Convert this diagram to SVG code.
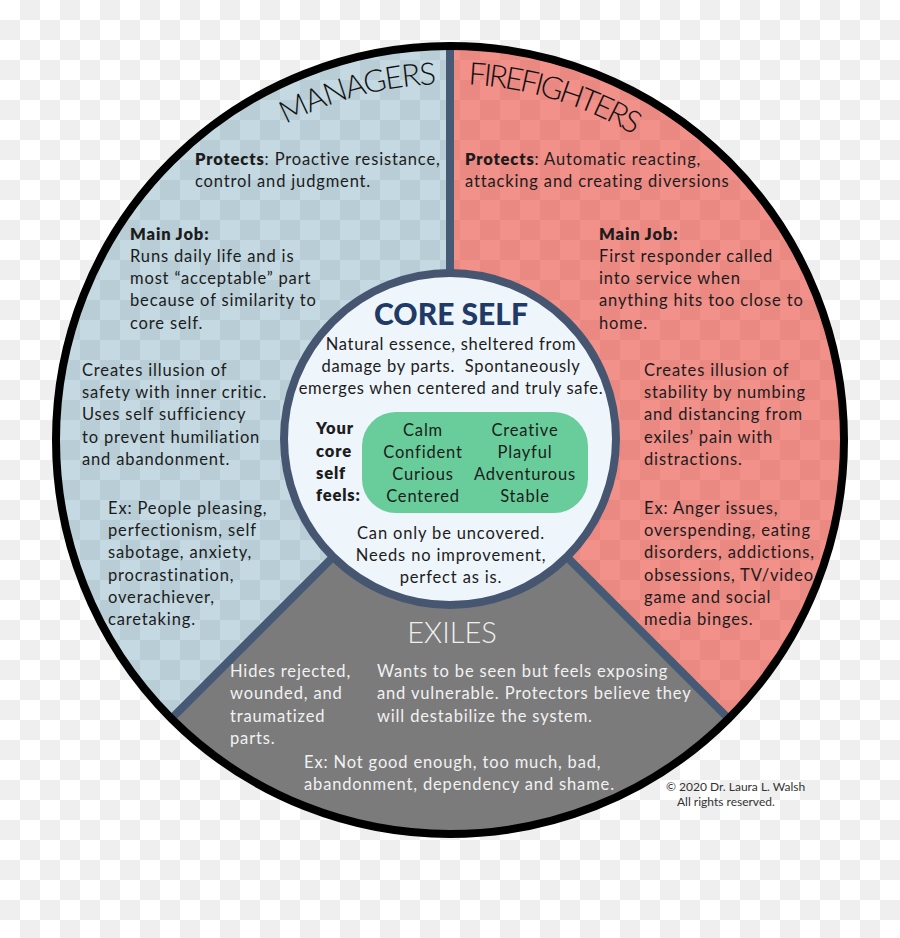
<svg xmlns="http://www.w3.org/2000/svg" width="900" height="938" viewBox="0 0 900 938">
<defs>
<pattern id="checker" x="0" y="0" width="40" height="40" patternUnits="userSpaceOnUse">
<rect width="40" height="40" fill="#ffffff"/>
<rect x="20" y="0" width="20" height="20" fill="#efefef"/>
<rect x="0" y="20" width="20" height="20" fill="#efefef"/>
</pattern>
<path id="arcTop" d="M 94,440 A 356 356 0 0 1 806,440"/>
<style>
text{font-family:"Lato","Liberation Sans",sans-serif;}
.t{font-size:16.5px;fill:#1c1c1c;letter-spacing:0.85px;}
.b{font-weight:800;}
.w{font-size:16.5px;fill:#f2f2f2;letter-spacing:0.85px;}
.title{font-size:31px;font-weight:300;fill:#111;}
.c{text-anchor:middle;}
.div{stroke:#475a75;stroke-width:8;fill:none;}
.cp{font-size:12px;fill:#333;}
</style>
</defs>
<rect width="900" height="938" fill="url(#checker)"/>

<g id="managers">
<path d="M450,440 L450,46 A394,394 0 0 0 171.4,718.6 Z" fill="#1a6d8f" fill-opacity="0.26"/>
<text class="title" style="letter-spacing:-1.5px"><textPath href="#arcTop" startOffset="544" text-anchor="end">MANAGERS</textPath></text>
<text class="t" x="195" y="165"><tspan class="b">Protects</tspan>: Proactive resistance,</text>
<text class="t" x="195" y="187">control and judgment.</text>
<text class="t b" x="130" y="240">Main Job:</text>
<text class="t" x="130" y="262">Runs daily life and is</text>
<text class="t" x="130" y="284">most “acceptable” part</text>
<text class="t" x="130" y="306">because of similarity to</text>
<text class="t" x="130" y="329">core self.</text>
<text class="t" x="82" y="376">Creates illusion of</text>
<text class="t" x="82" y="398">safety with inner critic.</text>
<text class="t" x="82" y="420">Uses self sufficiency</text>
<text class="t" x="82" y="443">to prevent humiliation</text>
<text class="t" x="82" y="465">and abandonment.</text>
<text class="t" x="108" y="514">Ex: People pleasing,</text>
<text class="t" x="108" y="536">perfectionism, self</text>
<text class="t" x="108" y="558">sabotage, anxiety,</text>
<text class="t" x="108" y="581">procrastination,</text>
<text class="t" x="108" y="603">overachiever,</text>
<text class="t" x="108" y="625">caretaking.</text>
</g>

<g id="firefighters">
<path d="M450,440 L450,46 A394,394 0 0 1 728.6,718.6 Z" fill="#e52115" fill-opacity="0.5"/>
<text class="title" style="letter-spacing:-2.8px"><textPath href="#arcTop" startOffset="577">FIREFIGHTERS</textPath></text>
<text class="t" x="465" y="165"><tspan class="b">Protects</tspan>: Automatic reacting,</text>
<text class="t" x="465" y="187">attacking and creating diversions</text>
<text class="t b" x="599" y="240">Main Job:</text>
<text class="t" x="599" y="262">First responder called</text>
<text class="t" x="599" y="284">into service when</text>
<text class="t" x="599" y="306">anything hits too close to</text>
<text class="t" x="599" y="329">home.</text>
<text class="t" x="644" y="376">Creates illusion of</text>
<text class="t" x="644" y="398">stability by numbing</text>
<text class="t" x="644" y="420">and distancing from</text>
<text class="t" x="644" y="443">exiles’ pain with</text>
<text class="t" x="644" y="465">distractions.</text>
<text class="t" x="644" y="514">Ex: Anger issues,</text>
<text class="t" x="644" y="536">overspending, eating</text>
<text class="t" x="644" y="558">disorders, addictions,</text>
<text class="t" x="644" y="581">obsessions, TV/video</text>
<text class="t" x="644" y="603">game and social</text>
<text class="t" x="644" y="625">media binges.</text>
</g>

<g id="exiles">
<path d="M450,440 L171.4,718.6 A394,394 0 0 0 728.6,718.6 Z" fill="#7b7b7b"/>
<text class="c" x="452" y="643" style="font-size:29px;font-weight:300;fill:#efefef">EXILES</text>
<text class="w" x="230" y="677">Hides rejected,</text>
<text class="w" x="230" y="699">wounded, and</text>
<text class="w" x="230" y="722">traumatized</text>
<text class="w" x="230" y="744">parts.</text>
<text class="w" x="377" y="677">Wants to be seen but feels exposing</text>
<text class="w" x="377" y="699">and vulnerable. Protectors believe they</text>
<text class="w" x="377" y="722">will destabilize the system.</text>
<text class="w" x="304" y="768">Ex: Not good enough, too much, bad,</text>
<text class="w" x="304" y="790">abandonment, dependency and shame.</text>
</g>

<g id="dividers">
<line class="div" x1="450" y1="44" x2="450" y2="440"/>
<line class="div" x1="450" y1="440" x2="170" y2="720"/>
<line class="div" x1="450" y1="440" x2="730" y2="720"/>
</g>

<circle cx="450" cy="440" r="394" fill="none" stroke="#000" stroke-width="8"/>

<g id="core-self">
<circle cx="450" cy="439" r="166" fill="#eef5fb" stroke="#465671" stroke-width="8"/>
<text class="c" x="451" y="325" style="font-size:30px;font-weight:900;fill:#1f3a66">CORE SELF</text>
<text class="t c" x="451" y="350" style="letter-spacing:0.7px">Natural essence, sheltered from</text>
<text class="t c" x="451" y="372" style="letter-spacing:0.7px;white-space:pre">damage by parts.  Spontaneously</text>
<text class="t c" x="451" y="394" style="letter-spacing:0.7px">emerges when centered and truly safe.</text>
<text class="t b" x="316" y="434">Your</text>
<text class="t b" x="316" y="457">core</text>
<text class="t b" x="316" y="479">self</text>
<text class="t b" x="316" y="501">feels:</text>
<text class="t c" x="451" y="539">Can only be uncovered.</text>
<text class="t c" x="451" y="561">Needs no improvement,</text>
<text class="t c" x="451" y="583">perfect as is.</text>
</g>

<g id="feelings">
<rect x="362" y="412" width="226" height="101" rx="34" fill="#68cd9a"/>
<text class="t c" x="423" y="436">Calm</text>
<text class="t c" x="423" y="458">Confident</text>
<text class="t c" x="423" y="480">Curious</text>
<text class="t c" x="423" y="502">Centered</text>
<text class="t c" x="525" y="436">Creative</text>
<text class="t c" x="525" y="458">Playful</text>
<text class="t c" x="525" y="480">Adventurous</text>
<text class="t c" x="525" y="502">Stable</text>
</g>

<g id="copyright">
<text class="cp" x="666" y="791">© 2020 Dr. Laura L. Walsh</text>
<text class="cp" x="677" y="806">All rights reserved.</text>
</g>
</svg>
